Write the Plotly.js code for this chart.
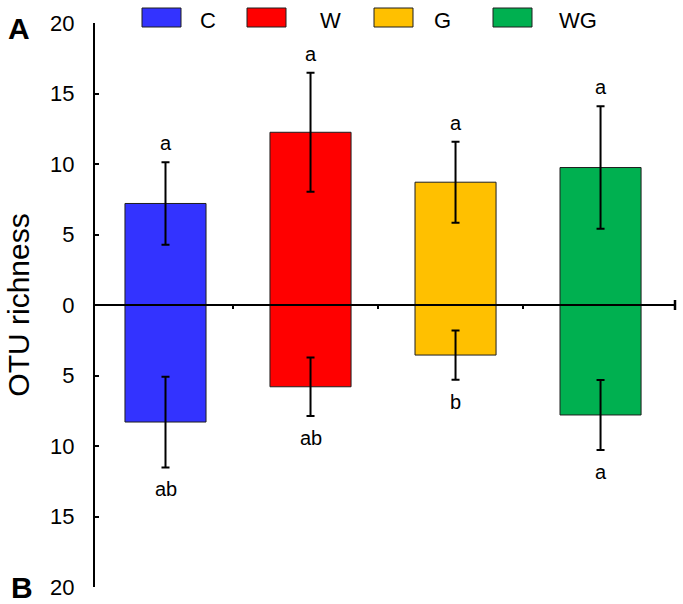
<!DOCTYPE html>
<html>
<head>
<meta charset="utf-8">
<script src="https://cdn.plot.ly/plotly-3.0.1.min.js"></script>
<style>html,body{margin:0;padding:0;background:#fff;}#chart{width:683px;height:604px;}</style>
</head>
<body>
<div id="chart"></div>
<script>
// ---- data ----
const categories = ['C', 'W', 'G', 'WG'];
const upMean = [7.2, 12.25, 8.71, 9.75];
const upErr = [2.92, 4.22, 2.87, 4.35];
const downMean = [-8.3, -5.8, -3.55, -7.8];
const downErr = [3.22, 2.07, 1.75, 2.48];
const upLetters = ['a', 'a', 'a', 'a'];
const downLetters = ['ab', 'ab', 'b', 'a'];
const barColors = ['#3333FF', '#FF0000', '#FFC000', '#00B050'];
const yTickVals = [-20, -15, -10, -5, 0, 5, 10, 15, 20];
const yTickText = ['20', '15', '10', '5', '0', '5', '10', '15', '20'];
const panelLabels = ['A', 'B'];
const yTitle = 'OTU richness';

// ---- layout constants ----
const W = 683, H = 604;
const M = {l: 95, r: 8, t: 23, b: 17};
const plotW = W - M.l - M.r, plotH = H - M.t - M.b;
const px2x = p => (p - M.l) / plotW;
const py2y = p => (H - M.b - p) / plotH;
const FONT = 'Arial, "Liberation Sans", Helvetica, sans-serif';
const barWidth = 0.559, barOffset = -0.245;
const centerShift = barOffset + barWidth / 2;
const xPos = categories.map((c, i) => i);            // category index positions
const boundaryTicks = categories.slice(1).map((c, i) => i + 0.5); // ticks between categories

const common = {
  x: xPos,
  type: 'bar',
  width: barWidth,
  offset: barOffset,
  marker: {color: barColors, line: {color: '#1e1e1e', width: 1}},
  showlegend: false,
  hovertext: categories,
  hoverinfo: 'text+y'
};
const traces = [
  Object.assign({}, common, {y: upMean, name: 'up',
    error_y: {type: 'data', array: upErr, visible: true, color: '#000', thickness: 2, width: 4}}),
  Object.assign({}, common, {y: downMean, name: 'down',
    error_y: {type: 'data', array: downErr, visible: true, color: '#000', thickness: 2, width: 4}})
];

const annotations = [];
categories.forEach((c, i) => {
  annotations.push({x: xPos[i] + centerShift, y: upMean[i] + upErr[i], xref: 'x', yref: 'y',
    text: upLetters[i], showarrow: false, yanchor: 'middle', yshift: 19,
    font: {family: FONT, size: 20, color: '#000'}});
  annotations.push({x: xPos[i] + centerShift, y: downMean[i] - downErr[i], xref: 'x', yref: 'y',
    text: downLetters[i], showarrow: false, yanchor: 'middle', yshift: -22,
    font: {family: FONT, size: 20, color: '#000'}});
});

// legend (drawn manually: box + label per category)
const legBoxLeft = [142, 247, 374, 493];
const legTextLeft = [198, 318, 432, 557];
const legBoxW = 39, legBoxTop = 8, legBoxBottom = 27, legTextY = 20;
const shapes = [];
categories.forEach((c, i) => {
  shapes.push({type: 'rect', xref: 'paper', yref: 'paper',
    x0: px2x(legBoxLeft[i]), x1: px2x(legBoxLeft[i] + legBoxW),
    y0: py2y(legBoxBottom), y1: py2y(legBoxTop),
    fillcolor: barColors[i], line: {color: '#1e1e1e', width: 1}});
  annotations.push({xref: 'paper', yref: 'paper', x: px2x(legTextLeft[i]), y: py2y(legTextY),
    xanchor: 'left', yanchor: 'middle', text: c, showarrow: false,
    font: {family: FONT, size: 22, color: '#000'}});
});
// end tick of the zero axis
shapes.push({type: 'line', xref: 'paper', yref: 'paper', x0: 1, x1: 1,
  y0: 0.5 - 5 / plotH, y1: 0.5 + 5 / plotH, line: {color: '#000', width: 2.5}});

// panel labels
annotations.push({xref: 'paper', yref: 'paper', x: px2x(19), y: py2y(29), text: '<b>' + panelLabels[0] + '</b>',
  showarrow: false, xanchor: 'center', yanchor: 'middle', font: {family: FONT, size: 30, color: '#000'}});
annotations.push({xref: 'paper', yref: 'paper', x: px2x(22), y: py2y(587), text: '<b>' + panelLabels[1] + '</b>',
  showarrow: false, xanchor: 'center', yanchor: 'middle', font: {family: FONT, size: 30, color: '#000'}});

const layout = {
  width: W, height: H,
  margin: M,
  paper_bgcolor: '#fff', plot_bgcolor: '#fff',
  barmode: 'overlay',
  showlegend: false,
  font: {family: FONT, color: '#000'},
  xaxis: {
    range: [-0.4517, 3.548],
    anchor: 'free', position: 0.5,
    showline: true, linecolor: '#000', linewidth: 2,
    tickmode: 'array', tickvals: boundaryTicks,
    ticks: 'outside', ticklen: 3, tickwidth: 2, tickcolor: '#000',
    showticklabels: false, showgrid: false, zeroline: false, fixedrange: true
  },
  yaxis: {
    range: [-20, 20],
    tickmode: 'array', tickvals: yTickVals, ticktext: yTickText,
    ticks: 'inside', ticklen: 4, tickwidth: 2, tickcolor: '#000',
    showline: true, linecolor: '#000', linewidth: 2,
    showgrid: false, zeroline: false,
    ticklabelstandoff: 14,
    tickfont: {family: FONT, size: 22, color: '#000'},
    title: {text: yTitle, font: {family: FONT, size: 30, color: '#000'}, standoff: 12},
    fixedrange: true
  },
  shapes: shapes,
  annotations: annotations
};

Plotly.newPlot('chart', traces, layout, {displayModeBar: false, staticPlot: true});
</script>
</body>
</html>
